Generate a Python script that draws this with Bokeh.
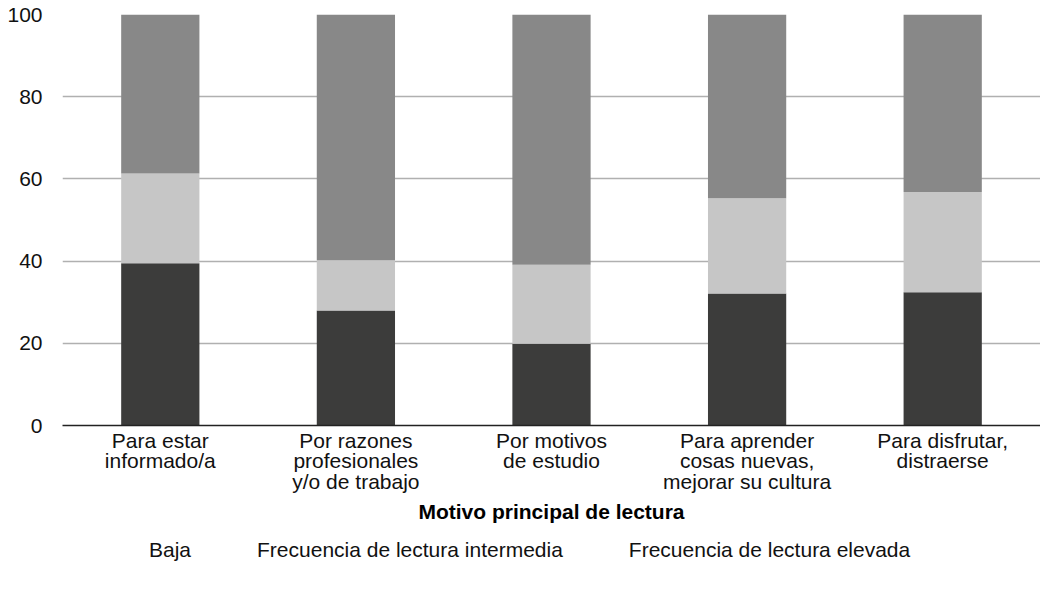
from bokeh.plotting import figure
from bokeh.layouts import column
from bokeh.models import ColumnDataSource, Legend, LegendItem, FactorRange, FixedTicker
from bokeh.embed import file_html
from bokeh.resources import INLINE

categories = [
    "Para estar\ninformado/a",
    "Por razones\nprofesionales\ny/o de trabajo",
    "Por motivos\nde estudio",
    "Para aprender\ncosas nuevas,\nmejorar su cultura",
    "Para disfrutar,\ndistraerse",
]
baja = [39.5, 28.0, 19.9, 32.1, 32.4]
intermedia = [21.8, 12.2, 19.2, 23.2, 24.4]
elevada = [38.7, 59.8, 60.9, 44.7, 43.2]
series_names = ["Baja", "Frecuencia de lectura intermedia", "Frecuencia de lectura elevada"]
series_keys = ["baja", "intermedia", "elevada"]
colors = ["#3c3c3b", "#c6c6c6", "#888888"]
y_ticks = [0, 20, 40, 60, 80, 100]
x_title = "Motivo principal de lectura"

FONT = "Liberation Sans"

source = ColumnDataSource(data=dict(cat=categories, baja=baja, intermedia=intermedia, elevada=elevada))

p = figure(
    x_range=FactorRange(factors=categories, range_padding=0),
    y_range=(0, 100),
    frame_width=978, frame_height=411,
    output_backend="svg", toolbar_location=None,
    min_border_left=62, min_border_right=0, min_border_top=14, min_border_bottom=110,
)
p.outline_line_color = None
p.background_fill_color = "white"

renderers = p.vbar_stack(series_keys, x="cat", width=0.4, color=colors, line_color=None, source=source)

# grid
p.xgrid.grid_line_color = None
p.ygrid.grid_line_color = "#b0b0b0"
p.ygrid.grid_line_width = 1.5
p.ygrid.ticker = FixedTicker(ticks=y_ticks)

# y axis
p.yaxis.ticker = FixedTicker(ticks=y_ticks)
p.yaxis.axis_line_color = None
p.yaxis.major_tick_line_color = None
p.yaxis.minor_tick_line_color = None
p.yaxis.major_tick_out = 0
p.yaxis.major_tick_in = 0
p.yaxis.major_label_standoff = 20
p.yaxis.major_label_text_font = FONT
p.yaxis.major_label_text_font_size = "21px"
p.yaxis.major_label_text_color = "#111111"

# x axis
p.xaxis.axis_line_color = "#222222"
p.xaxis.axis_line_width = 1.5
p.xaxis.major_tick_line_color = None
p.xaxis.minor_tick_line_color = None
p.xaxis.major_tick_out = 0
p.xaxis.major_tick_in = 0
p.xaxis.major_label_standoff = 3
p.xaxis.major_label_text_font = FONT
p.xaxis.major_label_text_font_size = "21px"
p.xaxis.major_label_text_line_height = 0.9
p.xaxis.major_label_text_color = "#111111"
p.xaxis.axis_label = x_title
p.xaxis.axis_label_text_font = FONT
p.xaxis.axis_label_text_font_size = "21px"
p.xaxis.axis_label_text_font_style = "bold"
p.xaxis.axis_label_text_color = "#000000"
p.xaxis.axis_label_standoff = 4

# separate strip holding the legend (below the chart)
lg = figure(
    frame_width=1040, frame_height=42,
    x_axis_type=None, y_axis_type=None,
    output_backend="svg", toolbar_location=None,
    min_border_left=0, min_border_right=0, min_border_top=0, min_border_bottom=0,
)
lg.outline_line_color = None
lg_renderers = [
    lg.vbar(x="x", top="t", width=0.4, color=c, line_color=None,
            source=ColumnDataSource(data=dict(x=[], t=[])))
    for c in colors
]

legend = Legend(
    items=[LegendItem(label=n, renderers=[r]) for n, r in zip(series_names, lg_renderers)],
    orientation="horizontal",
    location=(126, 15),
    padding=0, margin=0, spacing=43,
    glyph_width=15, glyph_height=15, label_standoff=8,
    label_text_font=FONT, label_text_font_size="21px", label_text_color="#111111",
    border_line_color=None, background_fill_alpha=0,
)
lg.add_layout(legend, "center")

layout = column(p, lg, spacing=0)

open("out.html", "w").write(file_html(layout, INLINE))
